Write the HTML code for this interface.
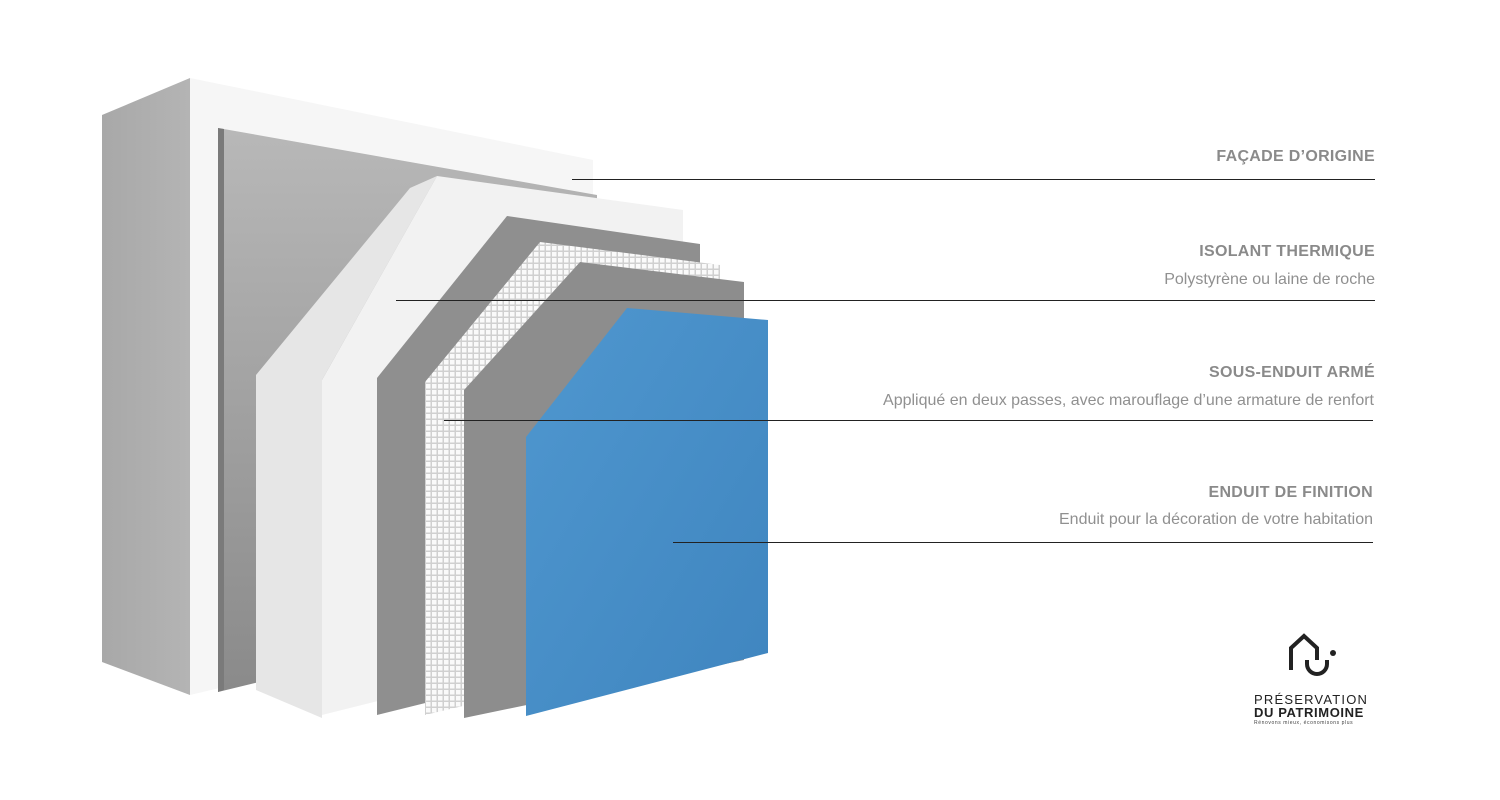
<!DOCTYPE html>
<html><head><meta charset="utf-8"><style>
body{margin:0;background:#fff;width:1500px;height:800px;overflow:hidden;position:relative;font-family:"Liberation Sans",sans-serif}
.t{position:absolute;right:125px;color:#8a8a8a;text-align:right;white-space:nowrap}
.h{font-weight:bold;font-size:16px;letter-spacing:0.3px}
.s{font-size:16px;color:#909090}
</style></head><body>
<svg width="1500" height="800" style="position:absolute;left:0;top:0">
<defs>
<linearGradient id="side" x1="0" x2="1"><stop offset="0" stop-color="#a8a8a8"/><stop offset="1" stop-color="#b4b4b4"/></linearGradient>
<linearGradient id="pl" x1="0" y1="0" x2="0" y2="1"><stop offset="0" stop-color="#b8b8b8"/><stop offset="1" stop-color="#8a8a8a"/></linearGradient>
<linearGradient id="blue" x1="0" y1="0" x2="1" y2="1"><stop offset="0" stop-color="#4f97cf"/><stop offset="1" stop-color="#3f85bf"/></linearGradient>
<pattern id="mesh" width="6" height="6" patternUnits="userSpaceOnUse"><rect width="6" height="6" fill="#d0d0d0"/><rect width="4.5" height="4.5" fill="#fafafa"/></pattern>
</defs>
<polygon points="102,115 190,78 190,695 102,662" fill="url(#side)"/>
<polygon points="190,78 593,160 593,600 190,695" fill="#f6f6f6"/>
<polygon points="218,128 597,195 597,600 218,692" fill="url(#pl)"/>
<polygon points="218,128 224,129 224,690 218,692" fill="#7a7a7a"/>
<polygon points="437,176 683,210 683,625 322,715 322,380" fill="#f2f2f2"/>
<polygon points="256,375 410,188 437,176 322,380 322,718 256,690" fill="#e6e6e6"/>
<polygon points="377,378 507,216 700,244 700,635 377,715" fill="#8f8f8f"/>
<polygon points="425,382 540,242 720,265 720,645 425,715" fill="url(#mesh)"/>
<polygon points="464,390 580,262 744,282 744,660 464,718" fill="#8d8d8d"/>
<polygon points="526,437 627,308 768,320 768,653 526,716" fill="url(#blue)"/>
<g stroke="#222" stroke-width="1">
<line x1="572" y1="179.5" x2="1375" y2="179.5"/>
<line x1="396" y1="300.5" x2="1375" y2="300.5"/>
<line x1="444" y1="420.5" x2="1373" y2="420.5"/>
<line x1="673" y1="542.5" x2="1373" y2="542.5"/>
</g>
<g fill="none" stroke="#222" stroke-width="4">
<path d="M1291,670 V648 L1304,636 L1317,648 V660"/>
<path d="M1307,660 V664 A10,10 0 0 0 1327,664 V660"/>
</g>
<circle cx="1333" cy="653" r="3" fill="#222"/>
</svg>
<div class="t h" style="top:148px">FAÇADE D’ORIGINE</div>
<div class="t h" style="top:243px">ISOLANT THERMIQUE</div>
<div class="t s" style="top:271px">Polystyrène ou laine de roche</div>
<div class="t h" style="top:364px">SOUS-ENDUIT ARMÉ</div>
<div class="t s" style="top:392px;right:126px">Appliqué en deux passes, avec marouflage d’une armature de renfort</div>
<div class="t h" style="top:484px;right:127px">ENDUIT DE FINITION</div>
<div class="t s" style="top:511px;right:127px">Enduit pour la décoration de votre habitation</div>
<div style="position:absolute;left:1254px;top:693px;font-size:13px;color:#222;line-height:13px;letter-spacing:1.2px">PRÉSERVATION<br><b style="letter-spacing:0.6px">DU PATRIMOINE</b></div>
<div style="position:absolute;left:1254px;top:720px;font-size:5px;color:#444;letter-spacing:0.6px">Rénovons mieux, économisons plus</div>
</body></html>
